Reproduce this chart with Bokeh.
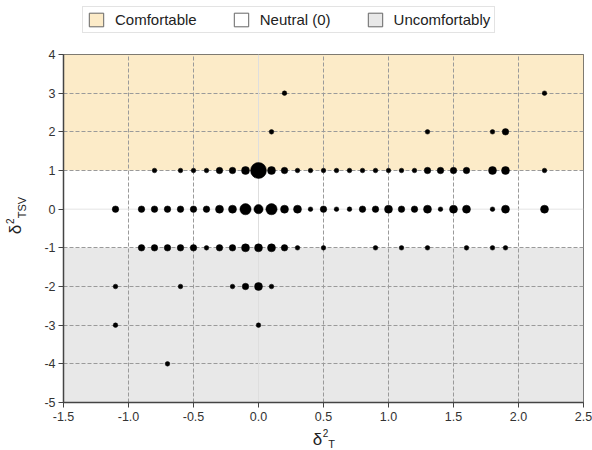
from bokeh.plotting import figure
from bokeh.models import (FixedTicker, Legend, LegendItem, Label, Span,
                          ColumnDataSource)
from bokeh.layouts import column, row
from bokeh.embed import file_html
from bokeh.resources import INLINE
import math

# ---------------- data ----------------
x_ticks = [-1.5, -1.0, -0.5, 0.0, 0.5, 1.0, 1.5, 2.0, 2.5]
x_tick_labels = ["-1.5", "-1.0", "-0.5", "0.0", "0.5", "1.0", "1.5", "2.0", "2.5"]
y_ticks = [-5, -4, -3, -2, -1, 0, 1, 2, 3, 4]
y_tick_labels = ["-5", "-4", "-3", "-2", "-1", "0", "1", "2", "3", "4"]

legend_labels = ["Comfortable", "Neutral (0)", "Uncomfortably"]
band_colors = ["#fcebc8", "#ffffff", "#e8e8e8"]
band_bottom = [1, -1, -5]
band_top = [4, 1, -1]

# rows of delta^2_TSV: x = delta^2_T, n = number of observations
row_p3_x = [0.2, 2.2]
row_p3_n = [1, 1]
row_p2_x = [0.1, 1.3, 1.8, 1.9]
row_p2_n = [1, 1, 1, 2]
row_p1_x = [-0.8, -0.6, -0.5, -0.4, -0.3, -0.2, -0.1, 0.0, 0.1, 0.2, 0.3, 0.4, 0.5,
            0.6, 0.7, 0.8, 0.9, 1.0, 1.1, 1.2, 1.3, 1.4, 1.5, 1.6, 1.8, 1.9, 2.2]
row_p1_n = [1, 1, 1, 1, 2, 2, 3, 12, 3, 2, 1, 1, 1,
            1, 1, 1, 1, 1, 1, 1, 2, 2, 2, 2, 3, 3, 1]
row_0_x = [-1.1, -0.9, -0.8, -0.7, -0.6, -0.5, -0.4, -0.3, -0.2, -0.1, 0.0, 0.1, 0.2,
           0.3, 0.4, 0.5, 0.6, 0.7, 0.8, 0.9, 1.0, 1.1, 1.2, 1.3, 1.4, 1.5, 1.6, 1.8,
           1.9, 2.2]
row_0_n = [2, 2, 2, 2, 2, 2, 2, 3, 3, 6, 4, 6, 3,
           3, 1, 2, 1, 1, 2, 2, 3, 2, 2, 3, 1, 3, 3, 1,
           3, 3]
row_m1_x = [-0.9, -0.8, -0.7, -0.6, -0.5, -0.4, -0.3, -0.2, -0.1, 0.0, 0.1, 0.2, 0.3,
            0.5, 0.9, 1.1, 1.3, 1.6, 1.8, 1.9]
row_m1_n = [2, 2, 2, 2, 2, 1, 2, 2, 3, 3, 3, 2, 1,
            1, 1, 1, 1, 1, 1, 1]
row_m2_x = [-1.1, -0.6, -0.2, -0.1, 0.0, 0.1]
row_m2_n = [1, 1, 1, 2, 3, 1]
row_m3_x = [-1.1, 0.0]
row_m3_n = [1, 1]
row_m4_x = [-0.7]
row_m4_n = [1]

rows = [(3, row_p3_x, row_p3_n), (2, row_p2_x, row_p2_n), (1, row_p1_x, row_p1_n),
        (0, row_0_x, row_0_n), (-1, row_m1_x, row_m1_n), (-2, row_m2_x, row_m2_n),
        (-3, row_m3_x, row_m3_n), (-4, row_m4_x, row_m4_n)]

xs, ys, ns = [], [], []
for yv, xr, nr in rows:
    for xv, nv in zip(xr, nr):
        xs.append(xv)
        ys.append(yv)
        ns.append(nv)
sizes = [4.6 * math.sqrt(n) for n in ns]
src = ColumnDataSource(dict(x=xs, y=ys, n=ns, size=sizes))

FONT = "Liberation Sans"
W, H = 592, 450
TOP_H, XLAB_H, YLAB_W = 45, 23, 36
NAN = float("nan")


def blank(w, h):
    f = figure(width=w, height=h, x_range=(0, w), y_range=(0, h),
               x_axis_type=None, y_axis_type=None, min_border=0,
               output_backend="svg", toolbar_location=None)
    f.outline_line_color = None
    f.background_fill_color = "white"
    f.border_fill_color = "white"
    return f


# ---------------- main figure ----------------
p = figure(width=W - YLAB_W, height=H - TOP_H - XLAB_H, x_range=(-1.5, 2.5),
           y_range=(-5, 4), output_backend="svg", toolbar_location=None,
           min_border_left=27, min_border_right=9, min_border_top=9,
           min_border_bottom=25)
p.background_fill_color = "white"
p.border_fill_color = "white"
p.outline_line_color = "#555555"
p.outline_line_width = 1

# bands
p.quad(left=[-1.5] * 3, right=[2.5] * 3, bottom=band_bottom, top=band_top,
       fill_color=band_colors, line_color=None, level="image")

# grid
p.xgrid.ticker = FixedTicker(ticks=[t for t in x_ticks if t != 0.0])
p.ygrid.ticker = FixedTicker(ticks=[t for t in y_ticks if t != 0])
for g in (p.xgrid, p.ygrid):
    g.grid_line_color = "#9a9a9a"
    g.grid_line_dash = "4 2"
    g.grid_line_width = 1
p.add_layout(Span(location=0, dimension="height", line_color="#dedede",
                  line_width=1, level="underlay"))
p.add_layout(Span(location=0, dimension="width", line_color="#e4e4e4",
                  line_width=1, level="underlay"))

# points
p.scatter("x", "y", size="size", source=src, marker="circle",
          fill_color="black", line_color="black", line_width=0.5)

# axes
p.xaxis.ticker = FixedTicker(ticks=x_ticks)
p.xaxis.major_label_overrides = dict(zip(x_ticks, x_tick_labels))
p.yaxis.ticker = FixedTicker(ticks=y_ticks)
p.yaxis.major_label_overrides = dict(zip(y_ticks, y_tick_labels))
for ax in (p.xaxis, p.yaxis):
    ax.axis_line_color = "#444444"
    ax.axis_line_width = 1.5
    ax.major_tick_line_color = "#444444"
    ax.major_tick_line_width = 1
    ax.major_tick_out = 5
    ax.major_tick_in = 0
    ax.minor_tick_out = 0
    ax.minor_tick_in = 0
    ax.major_label_text_font = FONT
    ax.major_label_text_font_size = "12.5px"
    ax.major_label_text_color = "#333333"
p.xaxis.major_label_standoff = 4
p.yaxis.major_label_standoff = 3

# ---------------- legend strip ----------------
top = blank(W, TOP_H)
items = []
for lbl, col in zip(legend_labels, band_colors):
    # proxy swatch renderer (a single undrawn NaN row) for the legend only
    r = top.quad(left=[NAN], right=[NAN], bottom=[NAN], top=[NAN], fill_color=col,
                 line_color="#666666", line_width=1)
    items.append(LegendItem(label=lbl, renderers=[r]))
legend = Legend(items=items, orientation="horizontal", location=(82, 12),
                glyph_width=18, glyph_height=17, label_standoff=10, spacing=35,
                label_width=20, padding=4, margin=0, label_text_font=FONT,
                label_text_font_size="15px", label_text_color="#222222",
                border_line_color="#c8c8c8", border_line_width=1,
                background_fill_color="white", background_fill_alpha=1)
top.add_layout(legend)


# ---------------- axis titles (delta, superscript 2, subscript) ----------------
def lab(f, x, y, text, size, angle=0.0):
    f.add_layout(Label(x=x, y=y, text=text, angle=angle, text_font=FONT,
                       text_font_size=size, text_color="#222222",
                       text_align="center", text_baseline="middle"))


xlab = blank(W, XLAB_H)
lab(xlab, 317, 11, "δ", "17px")
lab(xlab, 325, 18, "2", "10px")
lab(xlab, 331, 7, "T", "11px")

ylab = blank(YLAB_W, H - TOP_H - XLAB_H)
lab(ylab, 15, 190, "δ", "17px", math.pi / 2)
lab(ylab, 9, 199, "2", "10px", math.pi / 2)
lab(ylab, 21, 214, "TSV", "11px", math.pi / 2)

layout = column(top, row(ylab, p, spacing=0), xlab, spacing=0)

open("out.html", "w").write(file_html(layout, INLINE))
